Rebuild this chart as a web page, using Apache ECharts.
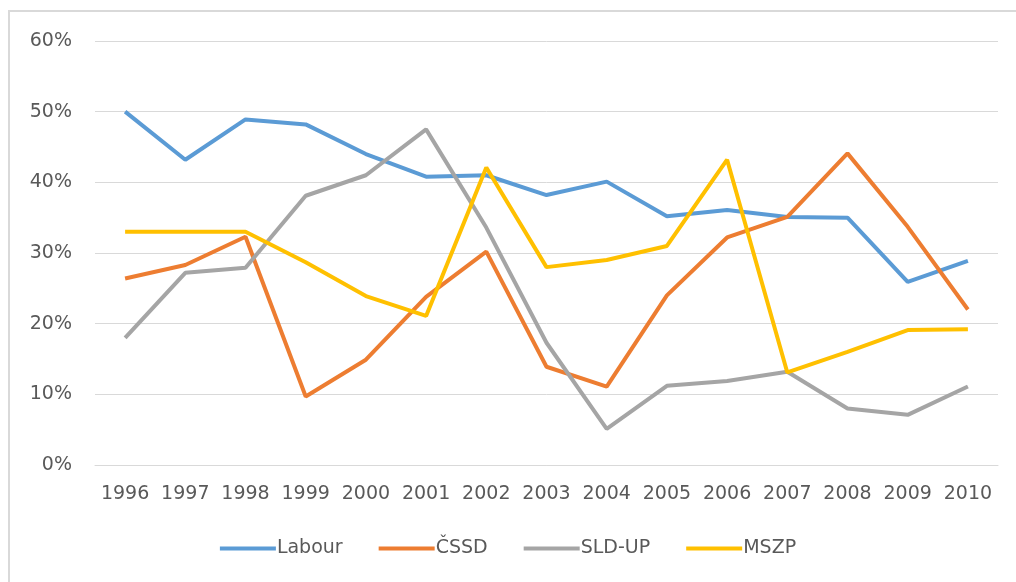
<!DOCTYPE html>
<html>
<head>
<meta charset="utf-8">
<script src="https://cdn.jsdelivr.net/npm/echarts@6/dist/echarts.min.js"></script>
<style>
html, body { margin: 0; padding: 0; background: #fff; }
#main { width: 1016px; height: 582px; }
</style>
</head>
<body>
<div id="main"></div>
<script>
// data
var years = ['1996', '1997', '1998', '1999', '2000', '2001', '2002', '2003', '2004', '2005', '2006', '2007', '2008', '2009', '2010'];
var labour = [50, 43.2, 48.9, 48.2, 44, 40.8, 41, 38.2, 40.1, 35.2, 36.1, 35.1, 35, 25.9, 28.9];
var cssd = [26.4, 28.3, 32.3, 9.7, 14.9, 23.8, 30.2, 13.9, 11.1, 24, 32.2, 35.1, 44.1, 33.7, 22];
var sldup = [18, 27.2, 27.9, 38.1, 41, 47.5, 33.6, 17.3, 5.1, 11.2, 11.9, 13.2, 8, 7.1, 11.1];
var mszp = [33, 33, 33, 28.7, 23.9, 21.1, 42.1, 28, 29, 31, 43.2, 13.1, 16, 19.1, 19.2];

var myChart = echarts.init(document.getElementById('main'));

var lbl = { color: '#595959', fontFamily: 'DejaVu Sans', fontSize: 19 };

function line(name, data, color) {
  return {
    name: name,
    type: 'line',
    data: data,
    symbol: 'none',
    lineStyle: { width: 4, color: color },
    itemStyle: { color: color }
  };
}

var option = {
  animation: false,
  backgroundColor: '#fff',
  color: ['#5B9BD5', '#ED7D31', '#A5A5A5', '#FFC000'],
  // frame of the pasted chart: only left and top edges show
  graphic: [{
    type: 'polyline',
    shape: { points: [[9, 600], [9, 11], [1030, 11]] },
    style: { fill: 'none', stroke: '#d9d9d9', lineWidth: 2 },
    silent: true
  }],
  grid: { left: 95, right: 18, top: 41, bottom: 117 },
  legend: {
    bottom: 19,
    left: 'center',
    itemWidth: 56,
    itemHeight: 4,
    itemGap: 36,
    icon: 'rect',
    textStyle: { color: '#595959', fontFamily: 'DejaVu Sans', fontSize: 19, padding: [0, 0, 0, -4] },
    data: ['Labour', 'ČSSD', 'SLD-UP', 'MSZP']
  },
  xAxis: {
    type: 'category',
    data: years,
    boundaryGap: true,
    axisTick: { show: false },
    axisLine: { lineStyle: { color: '#d9d9d9', width: 1 } },
    axisLabel: Object.assign({ margin: 20, interval: 0 }, lbl)
  },
  yAxis: {
    type: 'value',
    min: 0,
    max: 60,
    interval: 10,
    axisLine: { show: false },
    axisTick: { show: false },
    splitLine: { lineStyle: { color: '#d9d9d9', width: 1 } },
    axisLabel: Object.assign({ margin: 23, formatter: '{value}%' }, lbl)
  },
  series: [
    line('Labour', labour, '#5B9BD5'),
    line('ČSSD', cssd, '#ED7D31'),
    line('SLD-UP', sldup, '#A5A5A5'),
    line('MSZP', mszp, '#FFC000')
  ]
};

myChart.setOption(option);
window.onresize = function() {
  myChart.resize();
};
</script>
</body>
</html>
